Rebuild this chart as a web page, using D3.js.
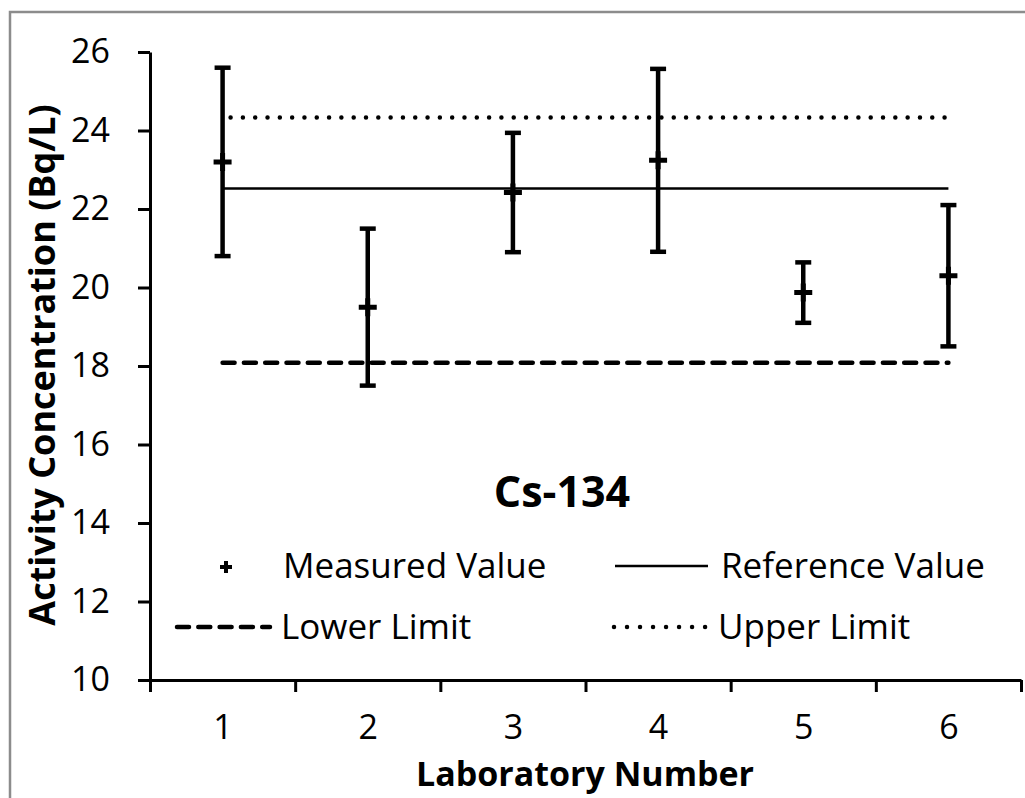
<html>
<head>
  <script src="https://d3js.org/d3.v7.min.js"></script>
  <style>
    body { margin: 0; background: white; }
    text { font-family: "Open Sans", Lato, sans-serif; fill: black; }
    .axis path, .axis line { stroke: black; stroke-width: 3px; }
    .axis text { font-size: 34px; }
    .title { font-weight: bold; }
  </style>
</head>
<body>
<svg id="chart" width="1025" height="798"></svg>
<script>
  const labs = [1, 2, 3, 4, 5, 6];
  const measured = [23.2, 19.5, 22.42, 23.24, 19.87, 20.3];
  const uncertainty = [2.4, 2.0, 1.52, 2.33, 0.77, 1.8];
  const referenceValue = 22.52;
  const lowerLimit = 18.08;
  const upperLimit = 24.33;
  const yTicks = [10, 12, 14, 16, 18, 20, 22, 24, 26];

  const svg = d3.select("svg#chart");
  const margin = { top: 52, right: 4, bottom: 118, left: 150 };
  const width = +svg.attr("width");
  const height = +svg.attr("height");

  // grey frame round the chart
  svg.append("rect")
    .attr("x", 10).attr("y", 12)
    .attr("width", 1040).attr("height", 820)
    .attr("fill", "white")
    .attr("stroke", "#8c8c8c")
    .attr("stroke-width", 2.5);

  const xScale = d3.scaleLinear()
    .domain([0.5, 6.5])
    .range([margin.left, width - margin.right]);
  const yScale = d3.scaleLinear()
    .domain([10, 26])
    .range([height - margin.bottom, margin.top]);

  // y axis
  svg.append("g")
    .attr("class", "axis")
    .attr("transform", `translate(${margin.left},0)`)
    .call(d3.axisLeft(yScale).tickValues(yTicks).tickSize(12).tickSizeOuter(0).tickPadding(28));

  // x axis: ticks between labs, labels at labs
  svg.append("g")
    .attr("class", "axis")
    .attr("transform", `translate(0,${yScale(10)})`)
    .call(d3.axisBottom(xScale).tickValues(d3.range(0.5, 7, 1)).tickSize(12).tickSizeOuter(0).tickFormat(""));
  svg.append("g")
    .attr("class", "axis")
    .attr("transform", `translate(0,${yScale(10)})`)
    .call(d3.axisBottom(xScale).tickValues(labs).tickSize(0).tickPadding(35).tickFormat(d3.format("d")))
    .call(g => g.select(".domain").remove());

  // limit and reference lines from lab 1 to lab 6
  const x1 = xScale(labs[0]), x2 = xScale(labs[labs.length - 1]);
  svg.append("line")
    .attr("x1", x1).attr("x2", x2)
    .attr("y1", yScale(referenceValue)).attr("y2", yScale(referenceValue))
    .attr("stroke", "black").attr("stroke-width", 2.5);
  svg.append("line")
    .attr("x1", x1).attr("x2", x2)
    .attr("y1", yScale(lowerLimit)).attr("y2", yScale(lowerLimit))
    .attr("stroke", "black").attr("stroke-width", 4.5)
    .attr("stroke-linecap", "round")
    .attr("stroke-dasharray", "12 9.3");
  svg.append("line")
    .attr("x1", x1 + 8).attr("x2", x2)
    .attr("y1", yScale(upperLimit)).attr("y2", yScale(upperLimit))
    .attr("stroke", "black").attr("stroke-width", 4.5)
    .attr("stroke-linecap", "round")
    .attr("stroke-dasharray", "0.01 12.3");

  // error bars
  labs.forEach((lab, i) => {
    const cx = xScale(lab);
    const cy = yScale(measured[i]);
    const lo = yScale(measured[i] - uncertainty[i]);
    const hi = yScale(measured[i] + uncertainty[i]);
    svg.append("line")
      .attr("x1", cx).attr("x2", cx).attr("y1", lo).attr("y2", hi)
      .attr("stroke", "black").attr("stroke-width", 4.5);
    [lo, hi].forEach(y => {
      svg.append("line")
        .attr("x1", cx - 8).attr("x2", cx + 8).attr("y1", y).attr("y2", y)
        .attr("stroke", "black").attr("stroke-width", 4.5);
    });
    svg.append("path")
      .attr("d", `M${cx - 9},${cy}h18M${cx},${cy - 9}v18`)
      .attr("stroke", "black").attr("stroke-width", 5);
  });

  // chart label
  svg.append("text")
    .attr("class", "title")
    .attr("x", 562).attr("y", 507)
    .attr("text-anchor", "middle")
    .style("font-size", "43px")
    .text("Cs-134");

  // legend
  const legend = svg.append("g").style("font-size", "35px");
  legend.append("path")
    .attr("d", "M220,567h12M226,561v12")
    .attr("stroke", "black").attr("stroke-width", 4);
  legend.append("text").attr("x", 283).attr("y", 578).text("Measured Value");
  legend.append("line")
    .attr("x1", 615).attr("x2", 708).attr("y1", 566).attr("y2", 566)
    .attr("stroke", "black").attr("stroke-width", 2.5);
  legend.append("text").attr("x", 721).attr("y", 578).text("Reference Value");
  legend.append("line")
    .attr("x1", 177).attr("x2", 270).attr("y1", 627).attr("y2", 627)
    .attr("stroke", "black").attr("stroke-width", 4.5)
    .attr("stroke-linecap", "round")
    .attr("stroke-dasharray", "12 9.3");
  legend.append("text").attr("x", 281).attr("y", 639).text("Lower Limit");
  legend.append("line")
    .attr("x1", 614).attr("x2", 706).attr("y1", 627).attr("y2", 627)
    .attr("stroke", "black").attr("stroke-width", 4.5)
    .attr("stroke-linecap", "round")
    .attr("stroke-dasharray", "0.01 13");
  legend.append("text").attr("x", 718).attr("y", 639).text("Upper Limit");

  // axis titles
  svg.append("text")
    .attr("class", "title")
    .attr("text-anchor", "middle")
    .attr("transform", "translate(55,365)rotate(-90)")
    .style("font-size", "36px")
    .text("Activity Concentration (Bq/L)");
  svg.append("text")
    .attr("class", "title")
    .attr("text-anchor", "middle")
    .attr("x", 585).attr("y", 786)
    .style("font-size", "34px")
    .text("Laboratory Number");
</script>
</body>
</html>
